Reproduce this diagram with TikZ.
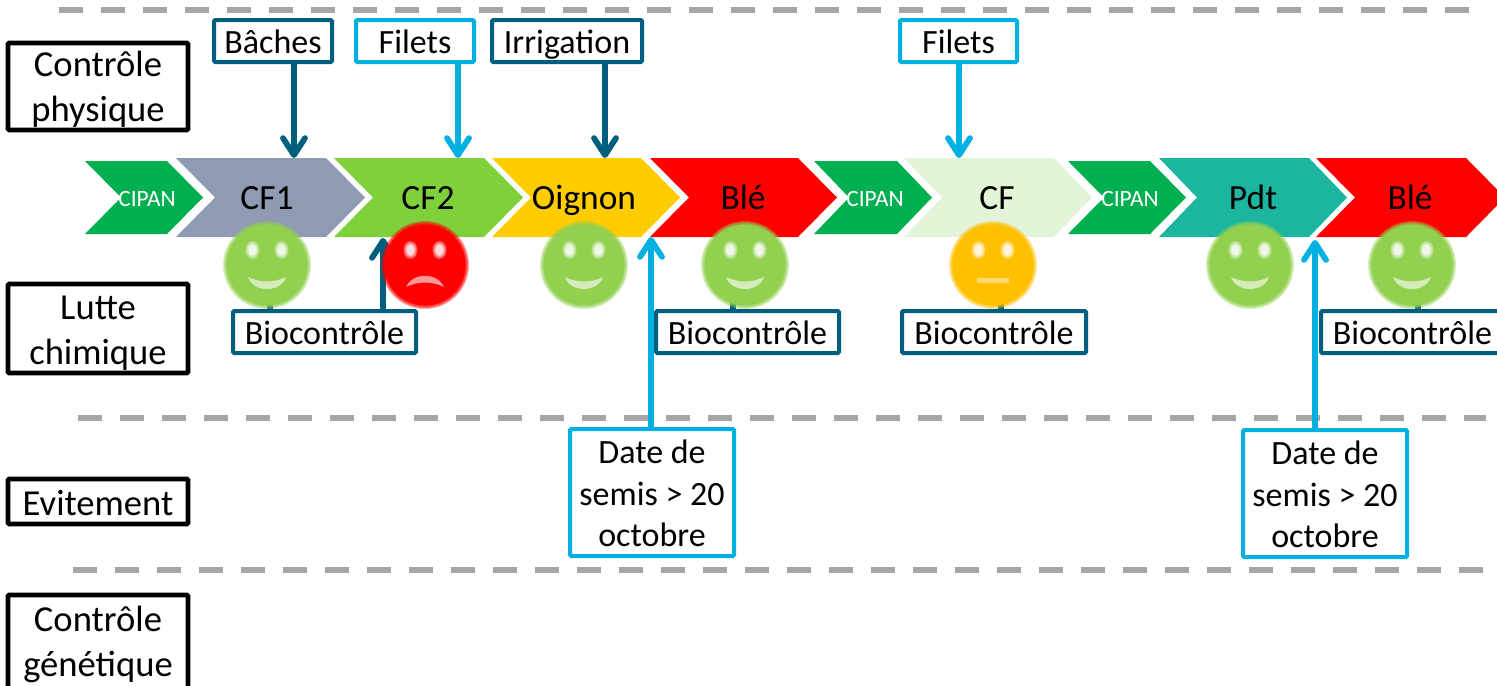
\documentclass[tikz,border=0pt]{standalone}
\usepackage{fontspec}
\setmainfont{Carlito}
\usetikzlibrary{arrows.meta,calc}
\definecolor{dkb}{HTML}{005F7F}
\definecolor{ltb}{HTML}{00B0E0}
\definecolor{dashg}{HTML}{A6A6A6}
\definecolor{cipan}{HTML}{00B050}
\definecolor{cfa}{HTML}{8E9BB3}
\definecolor{cfb}{HTML}{7FD13B}
\definecolor{oign}{HTML}{FFCC00}
\definecolor{ble}{HTML}{FF0000}
\definecolor{cfc}{HTML}{E3F4D9}
\definecolor{pdt}{HTML}{1BB5A0}
\definecolor{fgreen}{HTML}{92D050}
\definecolor{fred}{HTML}{FF0000}
\definecolor{forange}{HTML}{FFC000}
\tikzset{
  x=0.5pt,y=-0.5pt,
  sep/.style={line width=3pt,dashg,dash pattern=on 12pt off 9pt},
  boxbase/.style={draw,fill=white,line width=2pt,rounded corners=0.6pt,inner sep=0pt,align=center,text=black,font=\fontsize{17}{20.7}\selectfont},
  darkbox/.style={boxbase,draw=dkb},
  lightbox/.style={boxbase,draw=ltb},
  catbox/.style={boxbase,draw=black,line width=2.4pt,font=\fontsize{18.3}{22.5}\selectfont},
  conn/.style={line width=2.9pt,-{Straight Barb[round,length=8.5pt,width=11pt]}},
  darkarrow/.style={conn,draw=dkb},
  lightarrow/.style={conn,draw=ltb},
  croplabel/.style={inner sep=0pt,text height=12pt,text depth=3.5pt,font=\fontsize{17.7}{20}\selectfont},
  cipanlabel/.style={inner sep=0pt,text=white,font=\fontsize{11.7}{14}\selectfont},
}
% name, left, shoulder, tip, top, bottom, colour
\newcommand{\chev}[7]{%
  \fill[#7] (#2,#5) -- (#3,#5) -- (#4,{(#5+#6)/2}) -- (#3,#6) -- (#2,#6) -- ({#2+#4-#3},{(#5+#6)/2}) -- cycle;
  \coordinate (#1) at ({(#2+#3)/2},{(#5+#6)/2});}
% name, x0, y0, x1, y1, style, text shift (pt), text
\newcommand{\bx}[8]{%
  \node[#6,minimum width={(#4-#2)*0.5pt},minimum height={(#5-#3)*0.5pt},outer sep=0pt] (#1) at ({(#2+#4)/2},{(#3+#5)/2}) {};
  \node[#6,draw=none,fill=none] (#1-text) at ([yshift=#7pt]#1.center) {#8};}
\newcommand{\one}[1]{\rule{0pt}{12pt}#1\rule[-3.5pt]{0pt}{3.5pt}}
\newcommand{\mouthS}[1]{\fill[white,opacity=.6] (#1-19,277) .. controls (#1-7,283) and (#1+7,283) .. (#1+19,277) .. controls (#1+14,293) and (#1-14,293) .. (#1-19,277) -- cycle;}
\newcommand{\mouthF}[1]{\fill[white,opacity=.6] (#1-19,287) .. controls (#1-12,272) and (#1+12,272) .. (#1+19,287) .. controls (#1+7,281) and (#1-7,281) .. (#1-19,287) -- cycle;}
\newcommand{\mouthN}[1]{\fill[white,opacity=.45] (#1-16,278) rectangle (#1+16,283);}
\newcommand{\face}[3]{%
  \foreach \rr in {44,43,42,41}{\fill[#2,opacity=.35] (#1,265) circle (\rr);}
  \fill[#2] (#1,265) circle (40.5);
  \foreach \ee in {1,.8,.6}{%
    \fill[white,opacity=.35] (#1-14.5,250) ellipse ({7*\ee} and {9*\ee});
    \fill[white,opacity=.35] (#1+14.5,250) ellipse ({7*\ee} and {9*\ee});}
  \fill[white,opacity=.5] (#1-14.5,250) ellipse (4 and 6);
  \fill[white,opacity=.5] (#1+14.5,250) ellipse (4 and 6);
  #3{#1}}
\begin{document}
\begin{tikzpicture}
\useasboundingbox (0,0) rectangle (1497,685);
\clip (0,0) rectangle (1497,685);
% separators
\coordinate (s1a) at (59,10); \coordinate (s1b) at (1470,10);
\coordinate (s2a) at (78,418); \coordinate (s2b) at (1486,418);
\coordinate (s3a) at (73,570); \coordinate (s3b) at (1486,570);
\draw[sep] (s1a) -- (s1b);
\draw[sep] (s2a) -- (s2b);
\draw[sep] (s3a) -- (s3b);
% chevrons
\chev{c1}{85}{167}{203}{161}{234}{cipan}
\chev{c2}{176}{326}{365}{158}{237}{cfa}
\chev{c3}{334}{484}{523}{158}{237}{cfb}
\chev{c4}{492}{641}{680}{158}{237}{oign}
\chev{c5}{650}{798}{837}{158}{237}{ble}
\chev{c6}{814}{897}{932}{161}{234}{cipan}
\chev{c7}{904}{1054}{1092}{158}{237}{cfc}
\chev{c8}{1068}{1150}{1186}{161}{234}{cipan}
\chev{c9}{1159}{1309}{1347}{158}{237}{pdt}
\chev{c10}{1316}{1466}{1505}{158}{237}{ble}
\node[cipanlabel] (lc1) at (147,199) {CIPAN};
\node[croplabel] (lc2) at (267,201) {CF1};
\node[croplabel] (lc3) at (428,201) {CF2};
\node[croplabel] (lc4) at (584,201) {Oignon};
\node[croplabel] (lc5) at (743,201) {Blé};
\node[cipanlabel] (lc6) at (875,199) {CIPAN};
\node[croplabel] (lc7) at (997,201) {CF};
\node[cipanlabel] (lc8) at (1130,199) {CIPAN};
\node[croplabel] (lc9) at (1253,201) {Pdt};
\node[croplabel] (lc10) at (1410,201) {Blé};
% arrow targets
\coordinate (t1) at (294,158);
\coordinate (t2) at (458,158);
\coordinate (t3) at (605,158);
\coordinate (t4) at (959,158);
\coordinate (t5) at (270,240);
\coordinate (t6) at (383,238);
\coordinate (t7) at (733,240);
\coordinate (t8) at (1001,240);
\coordinate (t9) at (1418,240);
\coordinate (t10) at (651,237);
\coordinate (t11) at (1315,240);
% boxes
\bx{bache}{214}{20}{332}{62}{darkbox}{-1.8}{\one{Bâches}}
\bx{filA}{356}{20}{474}{62}{lightbox}{-1.8}{\one{Filets}}
\bx{irrig}{492}{20}{642}{62}{darkbox}{-1.8}{\one{Irrigation}}
\bx{filB}{900}{20}{1017}{62}{lightbox}{-1.8}{\one{Filets}}
\bx{bioA}{233}{311}{416}{353}{darkbox}{-2.2}{\one{Biocontrôle}}
\bx{bioB}{656}{311}{839}{353}{darkbox}{-2.2}{\one{Biocontrôle}}
\bx{bioC}{902}{311}{1086}{353}{darkbox}{-2.2}{\one{Biocontrôle}}
\bx{bioD}{1321}{311}{1504}{353}{darkbox}{-2.2}{\one{Biocontrôle}}
\bx{dateA}{570}{429}{734}{556}{lightbox}{-0.5}{Date de\\semis > 20\\octobre}
\bx{dateB}{1243}{430}{1407}{557}{lightbox}{-0.5}{Date de\\semis > 20\\octobre}
% connectors
\draw[darkarrow] (bache.south -| t1) -- (t1);
\draw[lightarrow] (filA.south -| t2) -- (t2);
\draw[darkarrow] (irrig.south -| t3) -- (t3);
\draw[lightarrow] (filB.south -| t4) -- (t4);
\draw[darkarrow] (bioA.north -| t5) -- (t5);
\draw[darkarrow] (bioA.north -| t6) -- (t6);
\draw[darkarrow] (bioB.north -| t7) -- (t7);
\draw[darkarrow] (bioC.north -| t8) -- (t8);
\draw[darkarrow] (bioD.north -| t9) -- (t9);
\draw[lightarrow] (dateA.north -| t10) -- (t10);
\draw[lightarrow] (dateB.north -| t11) -- (t11);
% faces
\face{267}{fgreen}{\mouthS}
\face{425}{fred}{\mouthF}
\face{584}{fgreen}{\mouthS}
\face{745}{fgreen}{\mouthS}
\face{993}{forange}{\mouthN}
\face{1250}{fgreen}{\mouthS}
\face{1412}{fgreen}{\mouthS}
% category boxes
\bx{catA}{8}{43}{188}{130}{catbox}{-1.5}{Contrôle\\physique}
\bx{catB}{8}{284}{188}{373}{catbox}{-2.3}{Lutte\\chimique}
\bx{catC}{8}{479}{188}{524}{catbox}{-2.5}{\one{Evitement}}
\bx{catD}{8}{595}{188}{689}{catbox}{-1}{Contrôle\\génétique}
\end{tikzpicture}
\end{document}
